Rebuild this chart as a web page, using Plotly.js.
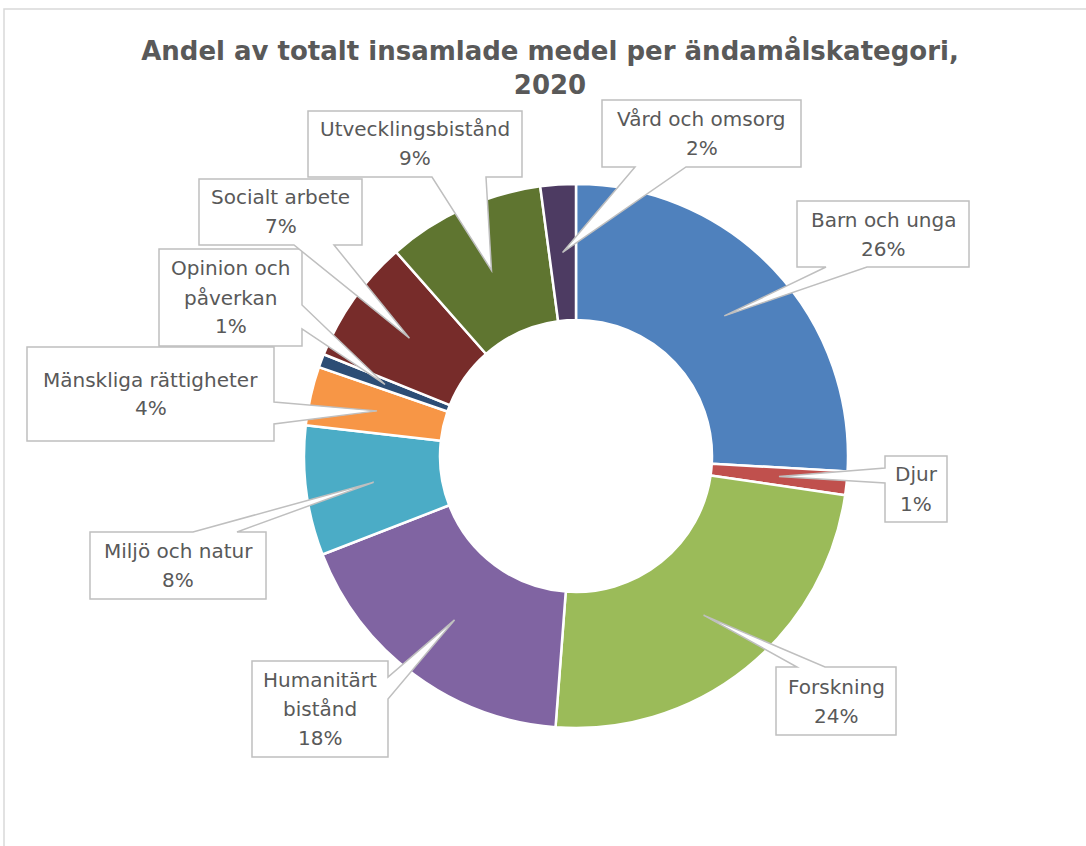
<!DOCTYPE html>
<html>
<head>
<meta charset="utf-8">
<script src="https://cdn.plot.ly/plotly-3.0.1.min.js"></script>
<style>html,body{margin:0;padding:0;background:#fff;}#chart{width:1086px;height:846px;}</style>
</head>
<body>
<div id="chart"></div>
<script>
// ---- data ----
const categories = ['Barn och unga', 'Djur', 'Forskning', 'Humanitärt bistånd', 'Miljö och natur',
  'Mänskliga rättigheter', 'Opinion och påverkan', 'Socialt arbete', 'Utvecklingsbistånd', 'Vård och omsorg'];
const values = [25.9, 1.4, 23.9, 17.9, 7.7, 3.5, 0.8, 7.4, 9.4, 2.1];
const labelLines = [['Barn och unga'], ['Djur'], ['Forskning'], ['Humanitärt', 'bistånd'], ['Miljö och natur'],
  ['Mänskliga rättigheter'], ['Opinion och', 'påverkan'], ['Socialt arbete'], ['Utvecklingsbistånd'], ['Vård och omsorg']];
const colors = ['#4F81BD', '#C0504D', '#9BBB59', '#8064A2', '#4BACC6', '#F79646', '#2C4D75', '#772C2A', '#5F7530', '#4D3B62'];
const titleText = 'Andel av totalt insamlade medel per ändamålskategori,<br>2020';

// ---- layout (pixels) ----
const W = 1086, H = 846;
const CX = 576, CY = 456, R = 272, HOLE = 0.5;
// callout boxes: [x0, x1, y0, y1, side, base0, base1]
const boxes = [
  [797, 969, 201, 267, 'b', 826, 867],
  [885, 947, 456, 522, 'l', 468, 483],
  [776, 896, 667, 735, 't', 797, 825],
  [252, 388, 661, 757, 'r', 677, 699],
  [90, 266, 532, 599, 't', 193, 237],
  [27, 274, 347, 441, 'r', 402, 424],
  [159, 302, 249, 346, 'r', 305, 329],
  [199, 362, 179, 245, 'b', 294, 334],
  [308, 522, 111, 177, 'b', 432, 486],
  [602, 801, 100, 167, 'b', 635, 686]
];
const LINE_H = 29;

const px = x => x / W;
const py = y => 1 - y / H;
const P = (x, y) => px(x).toFixed(5) + ',' + py(y).toFixed(5);

const total = values.reduce((a, b) => a + b, 0);
const shapes = [];
const annotations = [];

// chart area border (left and top)
shapes.push({type: 'path', xref: 'paper', yref: 'paper', layer: 'below',
  path: 'M' + P(4, H) + ' L' + P(4, 9) + ' L' + P(W, 9),
  line: {color: '#d9d9d9', width: 1.5}});

let cum = 0;
values.forEach((v, i) => {
  const th = 2 * Math.PI * (cum + v / 2) / total;
  cum += v;
  const rr = R * (1 + HOLE) / 2;
  const tx = CX + rr * Math.sin(th), ty = CY - rr * Math.cos(th);
  const [x0, x1, y0, y1, side, b0, b1] = boxes[i];
  let pts;
  if (side === 'b') pts = [[x0, y0], [x1, y0], [x1, y1], [b1, y1], [tx, ty], [b0, y1], [x0, y1]];
  else if (side === 't') pts = [[x0, y0], [b0, y0], [tx, ty], [b1, y0], [x1, y0], [x1, y1], [x0, y1]];
  else if (side === 'r') pts = [[x0, y0], [x1, y0], [x1, b0], [tx, ty], [x1, b1], [x1, y1], [x0, y1]];
  else pts = [[x0, y0], [x1, y0], [x1, y1], [x0, y1], [x0, b1], [tx, ty], [x0, b0]];
  shapes.push({type: 'path', xref: 'paper', yref: 'paper', layer: 'above',
    path: 'M' + pts.map(p => P(p[0], p[1])).join(' L') + ' Z',
    fillcolor: '#ffffff', line: {color: '#bfbfbf', width: 1.5}});
  const lines = labelLines[i].concat([Math.round(v / total * 100) + '%']);
  const cyb = (y0 + y1) / 2, cxb = (x0 + x1) / 2;
  lines.forEach((t, k) => {
    const yy = cyb + (k - (lines.length - 1) / 2) * LINE_H;
    annotations.push({xref: 'paper', yref: 'paper', x: px(cxb), y: py(yy), xanchor: 'center', yanchor: 'middle',
      text: t, showarrow: false, font: {family: 'DejaVu Sans', size: 20, color: '#595959'}});
  });
});

const trace = {
  type: 'pie', labels: categories, values: values, hole: HOLE, sort: false, direction: 'clockwise', rotation: 0,
  marker: {colors: colors, line: {color: '#ffffff', width: 2.5}},
  textinfo: 'none', hoverinfo: 'label+percent', showlegend: false,
  domain: {x: [px(CX - R), px(CX + R)], y: [py(CY + R), py(CY - R)]}
};

const layout = {
  width: W, height: H, margin: {l: 0, r: 0, t: 0, b: 0},
  paper_bgcolor: '#ffffff', plot_bgcolor: '#ffffff', showlegend: false,
  title: {text: titleText, x: 550 / W, xanchor: 'center', xref: 'paper', y: 1 - 60 / H, yanchor: 'top', yref: 'container',
    font: {family: 'DejaVu Sans', size: 26, weight: 700, color: '#595959'}},
  shapes: shapes, annotations: annotations
};

Plotly.newPlot('chart', [trace], layout, {displayModeBar: false, staticPlot: true});
</script>
</body>
</html>
